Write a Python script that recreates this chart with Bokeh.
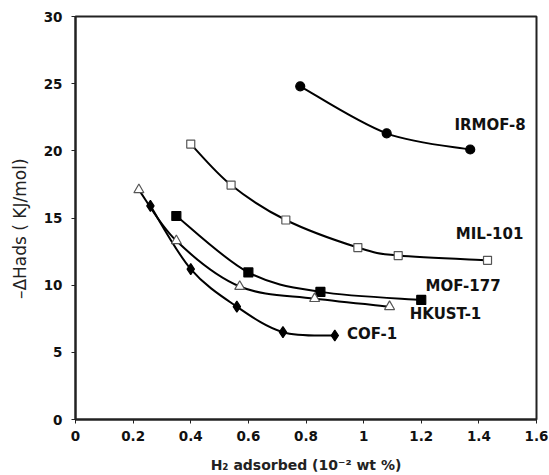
from bokeh.plotting import figure
from bokeh.models import Range1d, FixedTicker, ColumnDataSource
from bokeh.core.properties import value
from bokeh.embed import file_html
from bokeh.resources import INLINE

# ---- data ----
irmof8_x = [0.78, 1.08, 1.37]
irmof8_y = [24.8, 21.3, 20.1]
mil101_x = [0.40, 0.54, 0.73, 0.98, 1.12, 1.43]
mil101_y = [20.5, 17.45, 14.85, 12.8, 12.2, 11.85]
mof177_x = [0.35, 0.60, 0.85, 1.20]
mof177_y = [15.15, 10.95, 9.5, 8.9]
hkust1_x = [0.22, 0.35, 0.57, 0.83, 1.09]
hkust1_y = [17.1, 13.3, 9.9, 9.0, 8.4]
cof1_x = [0.26, 0.40, 0.56, 0.72, 0.90]
cof1_y = [15.9, 11.2, 8.4, 6.5, 6.25]

label_names = ["IRMOF-8", "MIL-101", "MOF-177", "HKUST-1", "COF-1"]
label_x = [1.315, 1.32, 1.215, 1.16, 0.942]
label_y = [21.95, 13.8, 9.95, 7.85, 6.4]

x_ticks = [0, 0.2, 0.4, 0.6, 0.8, 1.0, 1.2, 1.4, 1.6]
x_tick_labels = ["0", "0.2", "0.4", "0.6", "0.8", "1", "1.2", "1.4", "1.6"]
y_ticks = [0, 5, 10, 15, 20, 25, 30]

FONT = "DejaVu Sans"

p = figure(width=549, height=475, output_backend="svg", toolbar_location=None,
           x_range=Range1d(0, 1.6), y_range=Range1d(0, 30),
           min_border_left=75, min_border_right=13, min_border_top=16, min_border_bottom=56)
p.xgrid.visible = False
p.ygrid.visible = False
p.outline_line_color = "#222222"
p.outline_line_width = 2
p.background_fill_color = "white"
p.border_fill_color = "white"

for ax in (p.xaxis[0], p.yaxis[0]):
    ax.axis_line_width = 2
    ax.axis_line_color = "#222222"
    ax.major_tick_line_color = "#222222"
    ax.major_tick_line_width = 1
    ax.major_tick_out = 4
    ax.major_tick_in = 0
    ax.minor_tick_line_color = None
    ax.major_label_text_font = FONT
    ax.major_label_text_font_style = "bold"
    ax.major_label_text_font_size = "13.5px"
    ax.major_label_text_color = "#111111"
    ax.axis_label_text_font = FONT
    ax.axis_label_text_color = "#222222"

p.xaxis.ticker = FixedTicker(ticks=x_ticks)
p.xaxis.major_label_overrides = dict(zip(x_ticks, x_tick_labels))
p.xaxis.major_label_standoff = 7
p.xaxis.axis_label = "H\u2082 adsorbed (10\u207b\u00b2 wt %)"
p.xaxis.axis_label_text_font_style = "bold"
p.xaxis.axis_label_text_font_size = "14px"
p.xaxis.axis_label_standoff = 13

p.yaxis.ticker = FixedTicker(ticks=y_ticks)
p.yaxis.major_label_standoff = 9
# trailing no-break spaces push the visible title a little below the frame centre
p.yaxis.axis_label = "\u2013\u0394Hads ( KJ/mol)\u00a0\u00a0\u00a0\u00a0"
p.yaxis.axis_label_text_font_style = "normal"
p.yaxis.axis_label_text_font_size = "17px"
p.yaxis.axis_label_standoff = 11


def smooth(xs, ys):
    # Bezier segments (Excel-style smoothing) with control points from neighbours
    n = len(xs)
    seg = dict(x0=[], y0=[], x1=[], y1=[], cx0=[], cy0=[], cx1=[], cy1=[])
    for i in range(n - 1):
        xm = xs[i - 1] if i > 0 else xs[i]
        ym = ys[i - 1] if i > 0 else ys[i]
        xp = xs[i + 2] if i + 2 < n else xs[i + 1]
        yp = ys[i + 2] if i + 2 < n else ys[i + 1]
        seg["x0"].append(xs[i]); seg["y0"].append(ys[i])
        seg["x1"].append(xs[i + 1]); seg["y1"].append(ys[i + 1])
        seg["cx0"].append(xs[i] + (xs[i + 1] - xm) / 6)
        seg["cy0"].append(ys[i] + (ys[i + 1] - ym) / 6)
        seg["cx1"].append(xs[i + 1] - (xp - xs[i]) / 6)
        seg["cy1"].append(ys[i + 1] - (yp - ys[i]) / 6)
    return ColumnDataSource(seg)


series = [
    (irmof8_x, irmof8_y, "circle", 9, "black", "black"),
    (mil101_x, mil101_y, "square", 8, "white", "#555555"),
    (mof177_x, mof177_y, "square", 9, "black", "black"),
    (hkust1_x, hkust1_y, "triangle", 10, "white", "#555555"),
    (cof1_x, cof1_y, "diamond", 11, "black", "black"),
]
for xs, ys, mk, sz, fill, line in series:
    p.bezier(x0="x0", y0="y0", x1="x1", y1="y1", cx0="cx0", cy0="cy0",
             cx1="cx1", cy1="cy1", source=smooth(xs, ys),
             line_color="black", line_width=2)
for xs, ys, mk, sz, fill, line in series:
    p.scatter(xs, ys, marker=mk, size=sz, fill_color=fill, line_color=line,
              line_width=1.2)

p.text(x=label_x, y=label_y, text=label_names, text_font=value(FONT),
       text_font_style="bold", text_font_size="15px", text_color="#111111",
       text_align="left", text_baseline="middle")

open("out.html", "w").write(file_html(p, INLINE))
